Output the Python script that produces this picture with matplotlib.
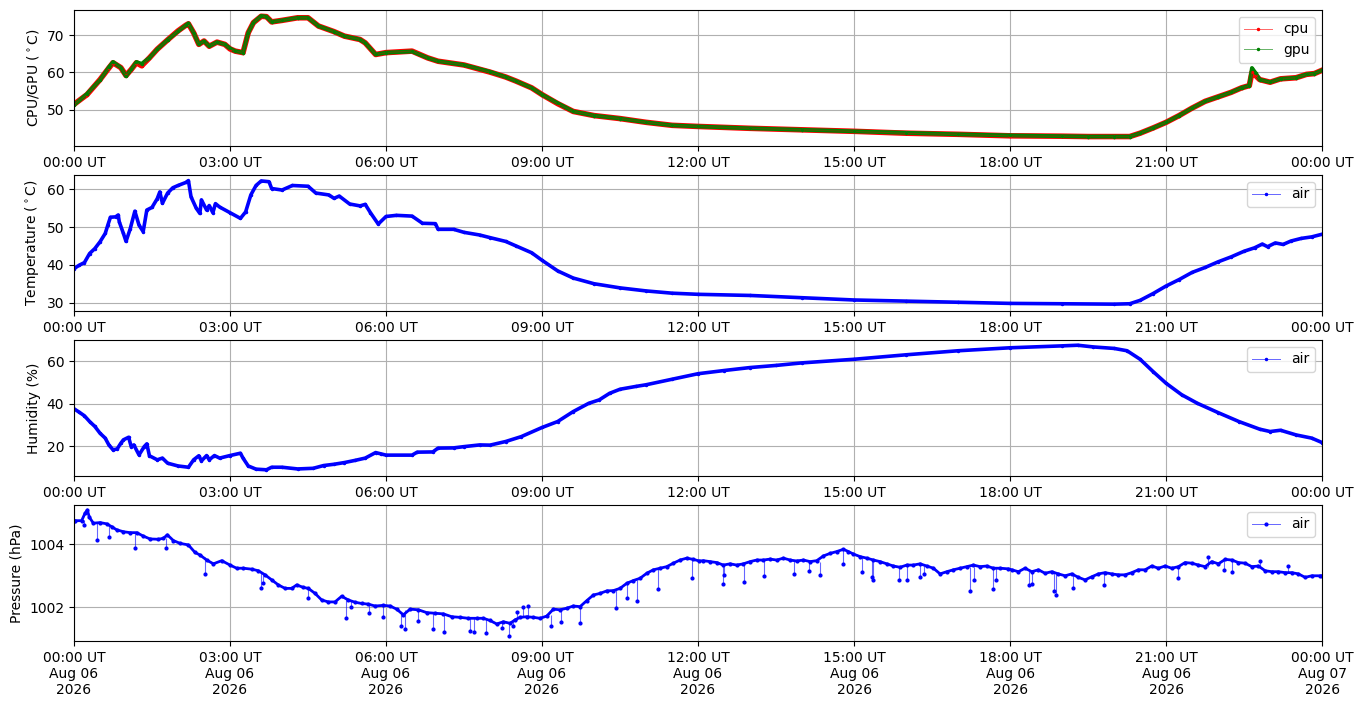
import datetime as dt
import matplotlib
matplotlib.use("Agg")
import matplotlib.pyplot as plt
import matplotlib.dates as mdates
from matplotlib.ticker import MultipleLocator

day0 = dt.datetime(2026, 8, 6)

# ---- CPU / GPU temperature (hours since 00:00 UT, degC)
cpu_h = [0, 0.25, 0.5, 0.67, 0.75, 0.9, 1.0, 1.1, 1.2, 1.3, 1.45, 1.6, 1.8, 2.0, 2.15, 2.2,
         2.3, 2.4, 2.5, 2.6, 2.75, 2.9, 3.0, 3.1, 3.25, 3.35, 3.45, 3.6, 3.7, 3.8, 4.0, 4.3,
         4.5, 4.7, 5.0, 5.2, 5.5, 5.6, 5.8, 6.0, 6.5, 6.8, 7.0, 7.5, 8.0, 8.3, 8.5, 8.8, 9.0,
         9.3, 9.6, 10.0, 10.5, 11.0, 11.5, 12.0, 13.0, 14.0, 15.0, 16.0, 17.0, 18.0, 19.0,
         19.5, 20.0, 20.3, 20.5, 20.75, 21.0, 21.25, 21.5, 21.75, 22.0, 22.25, 22.45, 22.6,
         22.65, 22.72, 22.8, 23.0, 23.2, 23.5, 23.7, 23.85, 24.0]
cpu = [51.5, 54.1, 58.1, 61.2, 62.6, 61.3, 59.2, 60.8, 62.6, 61.8, 63.9, 66.2, 68.7, 71.1, 72.6, 73.0,
       70.6, 67.5, 68.4, 67.0, 68.1, 67.5, 66.3, 65.7, 65.3, 70.6, 73.3, 75.0, 74.9, 73.5, 73.9, 74.6,
       74.6, 72.4, 70.9, 69.7, 68.8, 67.9, 64.8, 65.3, 65.7, 63.9, 63.0, 62.0, 60.1, 58.8, 57.7, 55.9, 54.1,
       51.7, 49.6, 48.5, 47.7, 46.7, 45.9, 45.6, 45.1, 44.7, 44.3, 43.8, 43.5, 43.1, 43.0,
       42.9, 42.9, 42.9, 43.8, 45.2, 46.7, 48.5, 50.5, 52.3, 53.5, 54.7, 55.9, 56.5,
       60.0, 59.2, 58.1, 57.4, 58.3, 58.6, 59.5, 59.7, 60.6]
gpu_h = cpu_h
gpu = [51.3, 54.3, 58.0, 61.4, 62.8, 61.3, 59.0, 60.8, 62.8, 62.3, 63.9, 66.2, 68.7, 71.0, 72.6, 73.1,
       70.6, 67.5, 68.4, 67.0, 68.1, 67.5, 66.4, 65.7, 65.3, 70.6, 73.3, 75.1, 74.9, 73.5, 73.9, 74.6,
       74.6, 72.4, 70.9, 69.7, 68.8, 67.9, 64.8, 65.3, 65.6, 63.9, 63.0, 62.0, 60.2, 58.8, 57.7, 55.9, 54.1,
       51.8, 49.6, 48.5, 47.7, 46.7, 45.9, 45.6, 45.1, 44.7, 44.3, 43.9, 43.5, 43.2, 43.0,
       42.9, 42.9, 42.9, 43.8, 45.2, 46.7, 48.5, 50.5, 52.3, 53.5, 54.7, 55.9, 56.5,
       61.2, 59.9, 58.1, 57.4, 58.3, 58.6, 59.5, 59.7, 60.6]

# ---- air temperature (degC)
temp_h = [0, 0.1, 0.2, 0.3, 0.4, 0.5, 0.6, 0.65, 0.7, 0.8, 0.85, 0.87, 0.95, 1.0, 1.08, 1.17,
          1.25, 1.33, 1.4, 1.5, 1.6, 1.65, 1.7, 1.8, 1.9, 2.0, 2.15, 2.2, 2.25, 2.35, 2.42, 2.45,
          2.55, 2.6, 2.67, 2.72, 2.8, 3.0, 3.2, 3.3, 3.4, 3.5, 3.6, 3.75, 3.8, 4.0, 4.2, 4.5,
          4.65, 4.9, 5.0, 5.1, 5.3, 5.5, 5.6, 5.7, 5.85, 6.0, 6.2, 6.5, 6.7, 6.95, 7.0, 7.3,
          7.5, 7.8, 8.0, 8.3, 8.5, 8.8, 9.0, 9.3, 9.6, 10.0, 10.5, 11.0, 11.5, 12.0, 13.0, 14.0,
          15.0, 16.0, 17.0, 18.0, 19.0, 20.0, 20.3, 20.5, 20.75, 21.0, 21.25, 21.5, 21.75, 22.0,
          22.25, 22.5, 22.7, 22.85, 22.95, 23.1, 23.25, 23.4, 23.6, 23.8, 24.0]
temp = [39.0, 39.9, 40.6, 43.0, 44.3, 46.1, 48.3, 50.5, 52.6, 52.7, 53.2, 51.4, 48.3, 46.2, 49.5, 54.2,
        50.5, 48.8, 54.5, 55.2, 57.5, 59.3, 56.3, 59.0, 60.4, 61.0, 61.8, 62.3, 58.0, 55.0, 53.6, 57.2,
        54.5, 55.7, 53.8, 56.2, 55.3, 53.8, 52.3, 54.0, 58.5, 61.0, 62.2, 62.0, 60.2, 59.8, 61.0, 60.8,
        59.0, 58.5, 57.6, 58.2, 56.1, 55.6, 56.0, 53.8, 50.8, 52.8, 53.1, 52.9, 51.0, 50.9, 49.4, 49.4,
        48.6, 47.9, 47.2, 46.2, 45.0, 43.2, 41.2, 38.4, 36.5, 35.0, 33.9, 33.1, 32.5, 32.2, 31.9, 31.3,
        30.7, 30.4, 30.1, 29.8, 29.7, 29.6, 29.7, 30.6, 32.4, 34.4, 36.1, 38.0, 39.3, 40.8,
        42.1, 43.6, 44.5, 45.5, 44.8, 45.8, 45.4, 46.3, 47.0, 47.4, 48.1]

# ---- air humidity (%)
hum_h = [0, 0.1, 0.2, 0.3, 0.4, 0.5, 0.6, 0.67, 0.75, 0.83, 0.9, 0.95, 1.05, 1.1, 1.15, 1.25,
         1.35, 1.4, 1.45, 1.6, 1.7, 1.8, 2.0, 2.2, 2.3, 2.4, 2.45, 2.55, 2.6, 2.7, 2.8, 3.0,
         3.2, 3.25, 3.35, 3.5, 3.7, 3.8, 4.0, 4.3, 4.6, 4.8, 5.0, 5.2, 5.4, 5.6, 5.8, 5.9,
         6.0, 6.5, 6.6, 6.9, 7.0, 7.3, 7.5, 7.8, 8.0, 8.3, 8.6, 9.0, 9.3, 9.6, 9.9, 10.1,
         10.3, 10.5, 10.8, 11.0, 11.5, 12.0, 12.5, 13.0, 13.5, 14.0, 15.0, 16.0, 17.0, 18.0,
         19.0, 19.3, 19.6, 20.0, 20.25, 20.5, 20.75, 21.0, 21.3, 21.6, 22.0, 22.4, 22.8, 23.0,
         23.2, 23.5, 23.8, 24.0]
hum = [37.6, 36.0, 34.3, 31.6, 29.3, 26.1, 23.8, 20.6, 18.3, 18.7, 21.4, 23.0, 24.2, 19.8, 20.6, 15.9,
       19.8, 21.1, 15.5, 13.6, 14.4, 12.0, 10.7, 10.1, 13.6, 15.5, 13.1, 15.6, 13.6, 15.6, 14.4, 15.6,
       16.7, 14.4, 10.7, 9.2, 8.9, 10.1, 10.1, 9.3, 9.6, 10.9, 11.5, 12.3, 13.3, 14.4, 17.0, 16.4,
       15.8, 15.8, 17.2, 17.3, 19.1, 19.2, 19.8, 20.6, 20.5, 22.2, 24.5, 28.8, 31.6, 36.3, 40.2, 41.8,
       44.9, 46.8, 48.1, 48.9, 51.5, 54.1, 55.6, 57.0, 58.0, 59.2, 60.9, 63.0, 64.9, 66.3,
       67.2, 67.5, 66.7, 66.0, 64.9, 60.9, 55.1, 49.6, 44.2, 40.2, 35.8, 31.6, 28.0, 26.9,
       27.5, 25.3, 23.8, 21.7]

# ---- air pressure (hPa): running level ...
pres_h = [0, 0.019, 0.147, 0.21, 0.256, 0.295, 0.372, 0.5, 0.628, 0.724, 0.82, 0.949, 1.077,
          1.205, 1.333, 1.462, 1.622, 1.718, 1.795, 1.91, 2.038, 2.199, 2.327, 2.423, 2.551,
          2.68, 2.84, 3.0, 3.128, 3.256, 3.417, 3.545, 3.673, 3.801, 3.929, 4.058, 4.186,
          4.282, 4.41, 4.506, 4.635, 4.763, 4.891, 5.019, 5.147, 5.276, 5.404, 5.532, 5.66,
          5.788, 5.949, 6.077, 6.205, 6.333, 6.462, 6.622, 6.782, 6.942, 7.103, 7.263, 7.423,
          7.583, 7.744, 7.872, 8.0, 8.128, 8.256, 8.385, 8.481, 8.577, 8.705, 8.833, 8.962,
          9.09, 9.218, 9.346, 9.474, 9.603, 9.731, 9.859, 9.987, 10.115, 10.244, 10.372, 10.5,
          10.628, 10.756, 10.885, 11.013, 11.141, 11.269, 11.397, 11.526, 11.654, 11.782, 11.91,
          12.026, 12.103, 12.231, 12.359, 12.487, 12.615, 12.744, 12.872, 13.0, 13.128, 13.256,
          13.385, 13.513, 13.641, 13.769, 13.897, 14.026, 14.154, 14.282, 14.41, 14.538, 14.667,
          14.795, 14.891, 14.987, 15.115, 15.244, 15.372, 15.5, 15.628, 15.756, 15.885, 16.013,
          16.141, 16.269, 16.397, 16.526, 16.654, 16.782, 16.91, 17.038, 17.167, 17.295, 17.423,
          17.551, 17.679, 17.808, 17.968, 18.032, 18.16, 18.288, 18.417, 18.545, 18.673, 18.801,
          18.929, 19.058, 19.186, 19.314, 19.442, 19.571, 19.699, 19.827, 19.955, 20.083, 20.212,
          20.34, 20.468, 20.596, 20.724, 20.853, 20.981, 21.109, 21.237, 21.365, 21.494, 21.622,
          21.75, 21.878, 22.006, 22.135, 22.263, 22.391, 22.519, 22.647, 22.776, 22.904, 23.032,
          23.16, 23.288, 23.417, 23.545, 23.673, 23.801, 23.962, 24.0]
pres = [1004.75, 1004.75, 1004.75, 1004.98, 1005.09, 1004.86, 1004.67, 1004.69, 1004.65, 1004.56,
        1004.46, 1004.40, 1004.37, 1004.37, 1004.26, 1004.17, 1004.16, 1004.19, 1004.30, 1004.12,
        1004.03, 1003.98, 1003.74, 1003.66, 1003.50, 1003.38, 1003.48, 1003.34, 1003.24, 1003.24,
        1003.21, 1003.16, 1003.03, 1002.87, 1002.71, 1002.60, 1002.60, 1002.71, 1002.63, 1002.60,
        1002.44, 1002.23, 1002.17, 1002.17, 1002.35, 1002.23, 1002.16, 1002.12, 1002.10, 1002.04,
        1002.06, 1002.04, 1001.94, 1001.76, 1001.94, 1001.92, 1001.83, 1001.81, 1001.79, 1001.70,
        1001.68, 1001.65, 1001.65, 1001.65, 1001.58, 1001.47, 1001.54, 1001.49, 1001.60, 1001.68,
        1001.70, 1001.68, 1001.65, 1001.72, 1001.94, 1001.92, 1001.97, 1002.04, 1002.02, 1002.21,
        1002.39, 1002.44, 1002.52, 1002.53, 1002.60, 1002.76, 1002.85, 1002.92, 1003.08, 1003.19,
        1003.24, 1003.29, 1003.40, 1003.50, 1003.56, 1003.52, 1003.47, 1003.48, 1003.45, 1003.42,
        1003.34, 1003.38, 1003.34, 1003.38, 1003.45, 1003.50, 1003.50, 1003.53, 1003.50, 1003.56,
        1003.50, 1003.47, 1003.50, 1003.45, 1003.48, 1003.63, 1003.71, 1003.77, 1003.84, 1003.77,
        1003.69, 1003.61, 1003.56, 1003.50, 1003.45, 1003.38, 1003.31, 1003.27, 1003.34, 1003.34,
        1003.38, 1003.31, 1003.24, 1003.06, 1003.13, 1003.19, 1003.24, 1003.29, 1003.34, 1003.29,
        1003.31, 1003.24, 1003.24, 1003.22, 1003.19, 1003.13, 1003.24, 1003.13, 1003.19, 1003.08,
        1003.13, 1003.06, 1003.00, 1003.06, 1002.95, 1002.87, 1002.97, 1003.06, 1003.10, 1003.06,
        1003.03, 1003.03, 1003.10, 1003.19, 1003.19, 1003.31, 1003.24, 1003.31, 1003.24, 1003.29,
        1003.42, 1003.40, 1003.34, 1003.29, 1003.45, 1003.38, 1003.52, 1003.50, 1003.42, 1003.40,
        1003.29, 1003.31, 1003.16, 1003.13, 1003.13, 1003.10, 1003.10, 1003.06, 1002.95, 1003.00,
        1003.00, 1003.00]
# ... and the short drop-outs (time, level before, reading)
drop_h = [0.192, 0.436, 0.673, 1.173, 1.763, 2.519, 3.596, 3.64, 4.494, 5.231, 5.327, 5.673,
          5.936, 6.282, 6.365, 6.609, 6.91, 7.115, 7.615, 7.699, 7.923, 8.224, 8.372, 8.449,
          8.513, 8.628, 8.737, 9.167, 9.365, 9.731, 10.423, 10.641, 10.821, 11.237, 11.891,
          12.487, 12.506, 12.891, 13.269, 13.846, 14.141, 14.346, 14.795, 15.154, 15.346,
          15.372, 15.872, 16.026, 16.269, 16.353, 17.237, 17.308, 17.679, 17.724, 18.365,
          18.429, 18.853, 18.878, 19.218, 19.814, 21.224, 21.80, 22.115, 22.276, 22.80, 23.35]
drop_top = [1004.78, 1004.67, 1004.65, 1004.37, 1004.20, 1003.60, 1003.12, 1003.10, 1002.62,
            1002.23, 1002.20, 1002.10, 1002.06, 1001.85, 1001.92, 1001.92, 1001.81, 1001.79,
            1001.65, 1001.65, 1001.65, 1001.52, 1001.49, 1001.56, 1001.60, 1001.68, 1001.70,
            1001.74, 1001.92, 1002.02, 1002.55, 1002.76, 1002.88, 1003.22, 1003.54, 1003.34,
            1003.34, 1003.38, 1003.50, 1003.50, 1003.45, 1003.45, 1003.84, 1003.61, 1003.50,
            1003.50, 1003.27, 1003.34, 1003.38, 1003.34, 1003.29, 1003.29, 1003.24, 1003.24,
            1003.17, 1003.17, 1003.13, 1003.13, 1003.06, 1003.10, 1003.29, 1003.29, 1003.50,
            1003.50, 1003.31, 1003.10]
drop_val = [1004.61, 1004.14, 1004.22, 1003.87, 1003.87, 1003.06, 1002.60, 1002.76, 1002.28,
            1001.65, 1002.00, 1001.81, 1001.68, 1001.41, 1001.30, 1001.56, 1001.30, 1001.21,
            1001.26, 1001.21, 1001.17, 1001.33, 1001.10, 1001.39, 1001.84, 1002.00, 1002.04,
            1001.42, 1001.52, 1001.49, 1001.97, 1002.31, 1002.20, 1002.57, 1002.92, 1002.74,
            1003.03, 1002.80, 1002.99, 1003.06, 1003.16, 1003.03, 1003.38, 1003.12, 1002.95,
            1002.87, 1002.87, 1002.87, 1002.95, 1003.06, 1002.52, 1002.87, 1002.57, 1002.87,
            1002.71, 1002.74, 1002.52, 1002.38, 1002.60, 1002.71, 1002.92, 1003.59, 1003.19,
            1003.13, 1003.48, 1003.31]


def to_time(hours):
    return [day0 + dt.timedelta(hours=h) for h in hours]


light_blue = (0, 0, 1, 0.6)
light_red = (1, 0, 0, 0.6)
light_green = (0, 0.5, 0, 0.6)

fig, axes = plt.subplots(4, 1, figsize=(13.63, 7.07), dpi=100)
fig.subplots_adjust(left=0.0543, right=0.970, top=0.986, bottom=0.0934, hspace=0.213)

ax1, ax2, ax3, ax4 = axes

# the original is sampled every minute, so the dots merge into a thick band
ax1.plot(to_time(cpu_h), cpu, color='red', lw=4.0)
ax1.plot(to_time(gpu_h), gpu, color='green', lw=2.8)
ax1.plot(to_time(cpu_h), cpu, color=light_red, lw=0.7, marker='.', ms=3,
         mfc='red', mec='red', label='cpu')
ax1.plot(to_time(gpu_h), gpu, color=light_green, lw=0.7, marker='.', ms=3,
         mfc='green', mec='green', label='gpu')
ax1.set_ylabel('CPU/GPU ($^\\circ$C)')
ax1.set_ylim(40.4, 76.7)
ax1.yaxis.set_major_locator(MultipleLocator(10))

ax2.plot(to_time(temp_h), temp, color='blue', lw=2.6)
ax2.plot(to_time(temp_h), temp, color=light_blue, lw=0.7, marker='.', ms=3,
         mfc='blue', mec='blue', label='air')
ax2.set_ylabel('Temperature ($^\\circ$C)')
ax2.set_ylim(27.8, 63.8)
ax2.yaxis.set_major_locator(MultipleLocator(10))

ax3.plot(to_time(hum_h), hum, color='blue', lw=2.6)
ax3.plot(to_time(hum_h), hum, color=light_blue, lw=0.7, marker='.', ms=3,
         mfc='blue', mec='blue', label='air')
ax3.set_ylabel('Humidity (%)')
ax3.set_ylim(6.0, 70.0)
ax3.yaxis.set_major_locator(MultipleLocator(20))

ax4.plot(to_time(pres_h), pres, color='blue', lw=2.0)
ax4.plot(to_time(pres_h), pres, color=light_blue, lw=0.7, marker='.', ms=4,
         mfc='blue', mec='blue', label='air')
ax4.vlines(to_time(drop_h), drop_val, drop_top, color=light_blue, lw=0.8)
ax4.plot(to_time(drop_h), drop_val, ls='none', marker='.', ms=4, color='blue')
ax4.set_ylabel('Pressure (hPa)')
ax4.set_ylim(1000.93, 1005.25)
ax4.yaxis.set_major_locator(MultipleLocator(2))
ax4.ticklabel_format(axis='y', useOffset=False)

for ax in axes:
    ax.set_xlim(day0, day0 + dt.timedelta(days=1))
    ax.xaxis.set_major_locator(mdates.HourLocator(byhour=range(0, 24, 3)))
    ax.xaxis.set_major_formatter(mdates.DateFormatter('%H:%M UT'))
    ax.grid(True)
    ax.legend(loc='upper right')
ax4.xaxis.set_major_formatter(mdates.DateFormatter('%H:%M UT\n%b %d\n%Y'))

plt.savefig('out.png')
